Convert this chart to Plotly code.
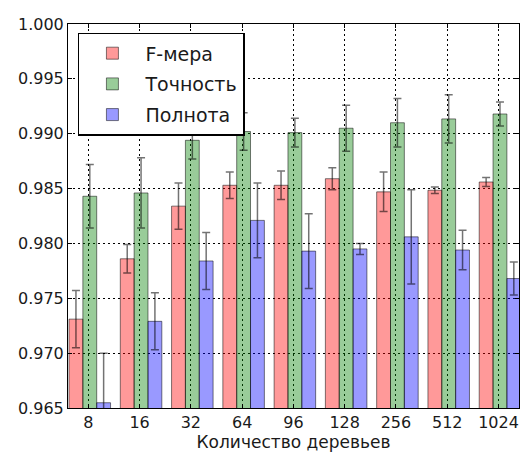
import plotly.graph_objects as go

categories = ["8", "16", "32", "64", "96", "128", "256", "512", "1024"]
f_measure = [0.9731, 0.9786, 0.9834, 0.9853, 0.9853, 0.9859, 0.9847, 0.98485, 0.9856]
f_err = [0.0026, 0.0013, 0.0021, 0.0012, 0.0013, 0.0010, 0.0018, 0.0003, 0.0004]
precision = [0.9843, 0.9846, 0.9894, 0.9902, 0.9901, 0.9905, 0.9910, 0.99135, 0.9918]
p_err = [0.0029, 0.0032, 0.0017, 0.0017, 0.0013, 0.0021, 0.0022, 0.0022, 0.0011]
recall = [0.96548, 0.9729, 0.9784, 0.9821, 0.9793, 0.9795, 0.9806, 0.9794, 0.9768]
r_err = [0.0045, 0.0026, 0.0026, 0.0034, 0.0034, 0.0005, 0.0043, 0.0018, 0.0015]

names = ["F-мера", "Точность", "Полнота"]
colors = ["rgba(255,0,0,0.4)", "rgba(0,128,0,0.4)", "rgba(0,0,255,0.4)"]
offsets = [-0.376, -0.106, 0.164]
width = 0.27

xpos = list(range(len(categories)))
FONT = "DejaVu Sans"

fig = go.Figure()
for i, (vals, errs, name, col, off) in enumerate(zip([f_measure, precision, recall],
                                      [f_err, p_err, r_err], names, colors, offsets)):
    fig.add_trace(go.Bar(
        x=xpos, y=vals, name=name, width=width, offset=off,
        legendgroup="g%d" % i,
        marker=dict(color=col, line=dict(color="rgba(0,0,0,0.5)", width=1)),
        error_y=dict(type="data", array=errs, visible=True,
                     color="rgba(0,0,0,0.55)", thickness=1.5, width=4),
    ))

fig.update_layout(
    width=523, height=455,
    margin=dict(l=68, r=4, t=24, b=47),
    paper_bgcolor="white", plot_bgcolor="white",
    barmode="overlay",
    font=dict(family=FONT, size=16, color="#1a1a1a"),
    legend=dict(
        x=0.022, y=0.977, xanchor="left", yanchor="top",
        bgcolor="white", bordercolor="black", borderwidth=1.5,
        font=dict(size=19, family=FONT), itemwidth=56,
        tracegroupgap=3,
    ),
    xaxis=dict(
        range=[-0.396, 8.40], tickmode="array", tickvals=xpos, ticktext=categories,
        showline=True, linecolor="black", linewidth=1, mirror="ticks",
        ticks="inside", ticklen=4, tickcolor="black",
        showgrid=True, gridcolor="black", griddash="2px,3px", gridwidth=1,
        zeroline=False, layer="above traces",
        title=dict(text="Количество деревьев", font=dict(size=17), standoff=4),
    ),
    yaxis=dict(
        range=[0.965, 1.000], dtick=0.005, tick0=0.965, tickformat=".3f",
        showline=True, linecolor="black", linewidth=1, mirror="ticks",
        ticks="inside", ticklen=4, tickcolor="black",
        showgrid=True, gridcolor="black", griddash="2px,3px", gridwidth=1,
        zeroline=False, layer="above traces",
    ),
)

fig.write_html("out.html", config={"displayModeBar": False},
               post_script="document.body.style.margin='0';")
